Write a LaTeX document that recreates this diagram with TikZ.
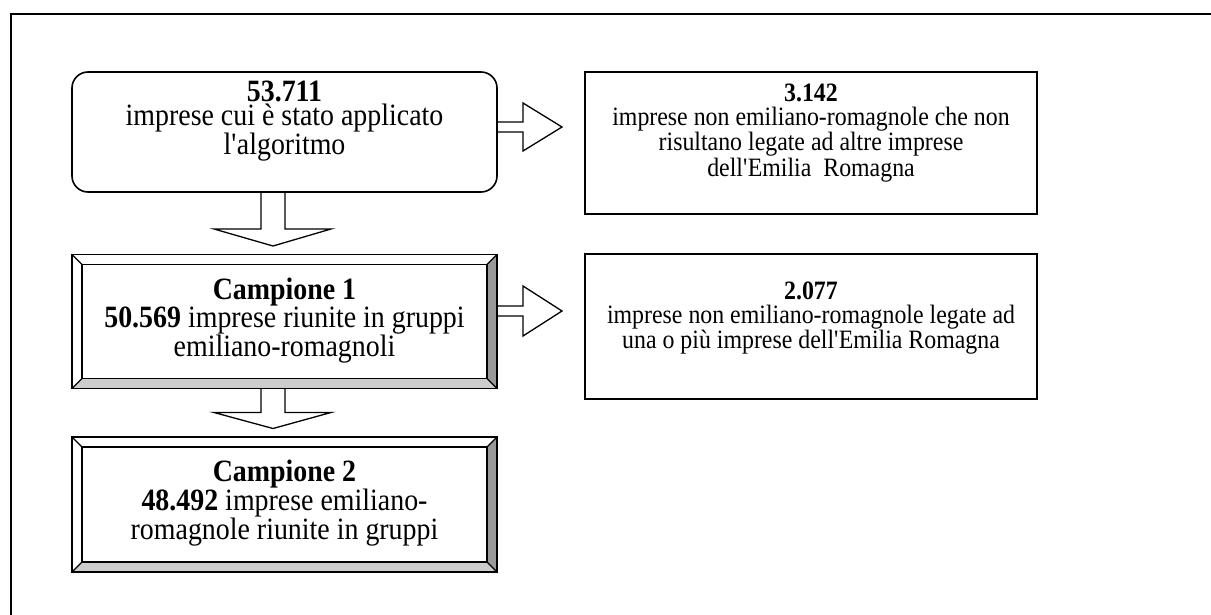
\documentclass[tikz,border=0pt]{standalone}
\usepackage{fontspec}
\setmainfont{Liberation Serif}
\newfontfamily\narrowserif{Liberation Serif}[FakeStretch=0.9]
\usetikzlibrary{calc,backgrounds}
\newcommand\apo{\textquotesingle}
\begin{document}
\begin{tikzpicture}[x=1pt,y=-1pt,
  box/.style={draw, line width=1.6pt, inner sep=0pt, outer sep=0pt, fill=white},
  rbox/.style={box, rounded corners=16pt, minimum width=425pt, minimum height=120pt},
  bbox/.style={box, minimum width=425pt, minimum height=134pt},
  pbox/.style={box, minimum width=452pt},
  ltext/.style={align=center, inner sep=0pt, font=\narrowserif\fontsize{31}{24.5}\selectfont},
  rtext/.style={align=center, inner sep=0pt, font=\narrowserif\fontsize{26.5}{24}\selectfont},
  arr/.style={draw, line width=1.3pt, fill=white, line join=miter},
  bevelline/.style={line width=1.3pt},
  darkbevel/.style={fill=black!40},
  lightbevel/.style={fill=black!20}]
\useasboundingbox (0,0) rectangle (1211,615);
% outer frame
\draw[line width=2.5pt] (11,615) -- (11,14) -- (1211,14);

% boxes
\node[rbox] (b1) at (284.5,132) {};
\node[bbox] (c1) at (284.5,321.5) {};
\node[bbox, minimum height=135pt] (c2) at (284.5,504.5) {};
\node[pbox, minimum height=142pt] (r1) at (811,143) {};
\node[pbox, minimum height=145pt] (r2) at (811,326.5) {};

% bevels
\foreach \n in {c1,c2}{
  \path[darkbevel] (\n.north east) -- ($(\n.north east)+(-10,10)$) -- ($(\n.south east)+(-10,-10)$) -- (\n.south east) -- cycle;
  \path[lightbevel] (\n.south west) -- ($(\n.south west)+(10,-10)$) -- ($(\n.south east)+(-10,-10)$) -- (\n.south east) -- cycle;
  \draw[bevelline] ($(\n.north west)+(10,10)$) rectangle ($(\n.south east)+(-10,-10)$);
  \draw[bevelline] (\n.north west) -- ++(10,10);
  \draw[bevelline] (\n.north east) -- ++(-10,10);
  \draw[bevelline] (\n.south west) -- ++(10,-10);
  \draw[bevelline] (\n.south east) -- ++(-10,-10);
  \draw[line width=1.6pt] (\n.north west) rectangle (\n.south east);
}

% texts
\node[ltext] (t1) at (284.5,121) {\textbf{53.711}\\imprese cui è stato applicato\\l\apo algoritmo};
\node[ltext] (tc1) at (284.5,320.5) {\textbf{Campione 1}\\\textbf{50.569} imprese riunite in gruppi\\emiliano-romagnoli};
\node[ltext] (tc2) at (284.5,503) {\textbf{Campione 2}\\\textbf{48.492} imprese emiliano-\\romagnole riunite in gruppi};
\node[rtext] (tr1) at (811,133) {\textbf{3.142}\\imprese non emiliano-romagnole che non\\risultano legate ad altre imprese\\dell\apo Emilia\ \ Romagna};
\node[rtext] (tr2) at (811,318) {\textbf{2.077}\\imprese non emiliano-romagnole legate ad\\una o più imprese dell\apo Emilia Romagna};

% arrows
\path (b1.east) ++(0,-5) coordinate (a1);
\path (c1.east) ++(0,-10.5) coordinate (a2);
\path (b1.south) ++(-11.5,0) coordinate (d1);
\path (c1.south) ++(-11.5,0) coordinate (d2);
\begin{scope}[on background layer]
\fill[white] (0,0) rectangle (1211,615);
\draw[arr] ($(a1)+(0,-5)$) -- ++(26,0) -- ++(0,-19) -- ++(39,24) -- ++(-39,24) -- ++(0,-19) -- ($(a1)+(0,5)$);
\draw[arr] ($(a2)+(0,-5)$) -- ++(26,0) -- ++(0,-20) -- ++(39,25) -- ++(-39,25) -- ++(0,-20) -- ($(a2)+(0,5)$);
\draw[arr] ($(d1)+(-12,0)$) -- ++(0,37) -- ++(-47,0) -- ++(59,17) -- ++(58,-17) -- ++(-46,0) -- ($(d1)+(12,0)$);
\draw[arr] ($(d2)+(-12,0)$) -- ++(0,24) -- ++(-47,0) -- ++(59,16) -- ++(58,-16) -- ++(-46,0) -- ($(d2)+(12,0)$);
\end{scope}
\end{tikzpicture}
\end{document}
